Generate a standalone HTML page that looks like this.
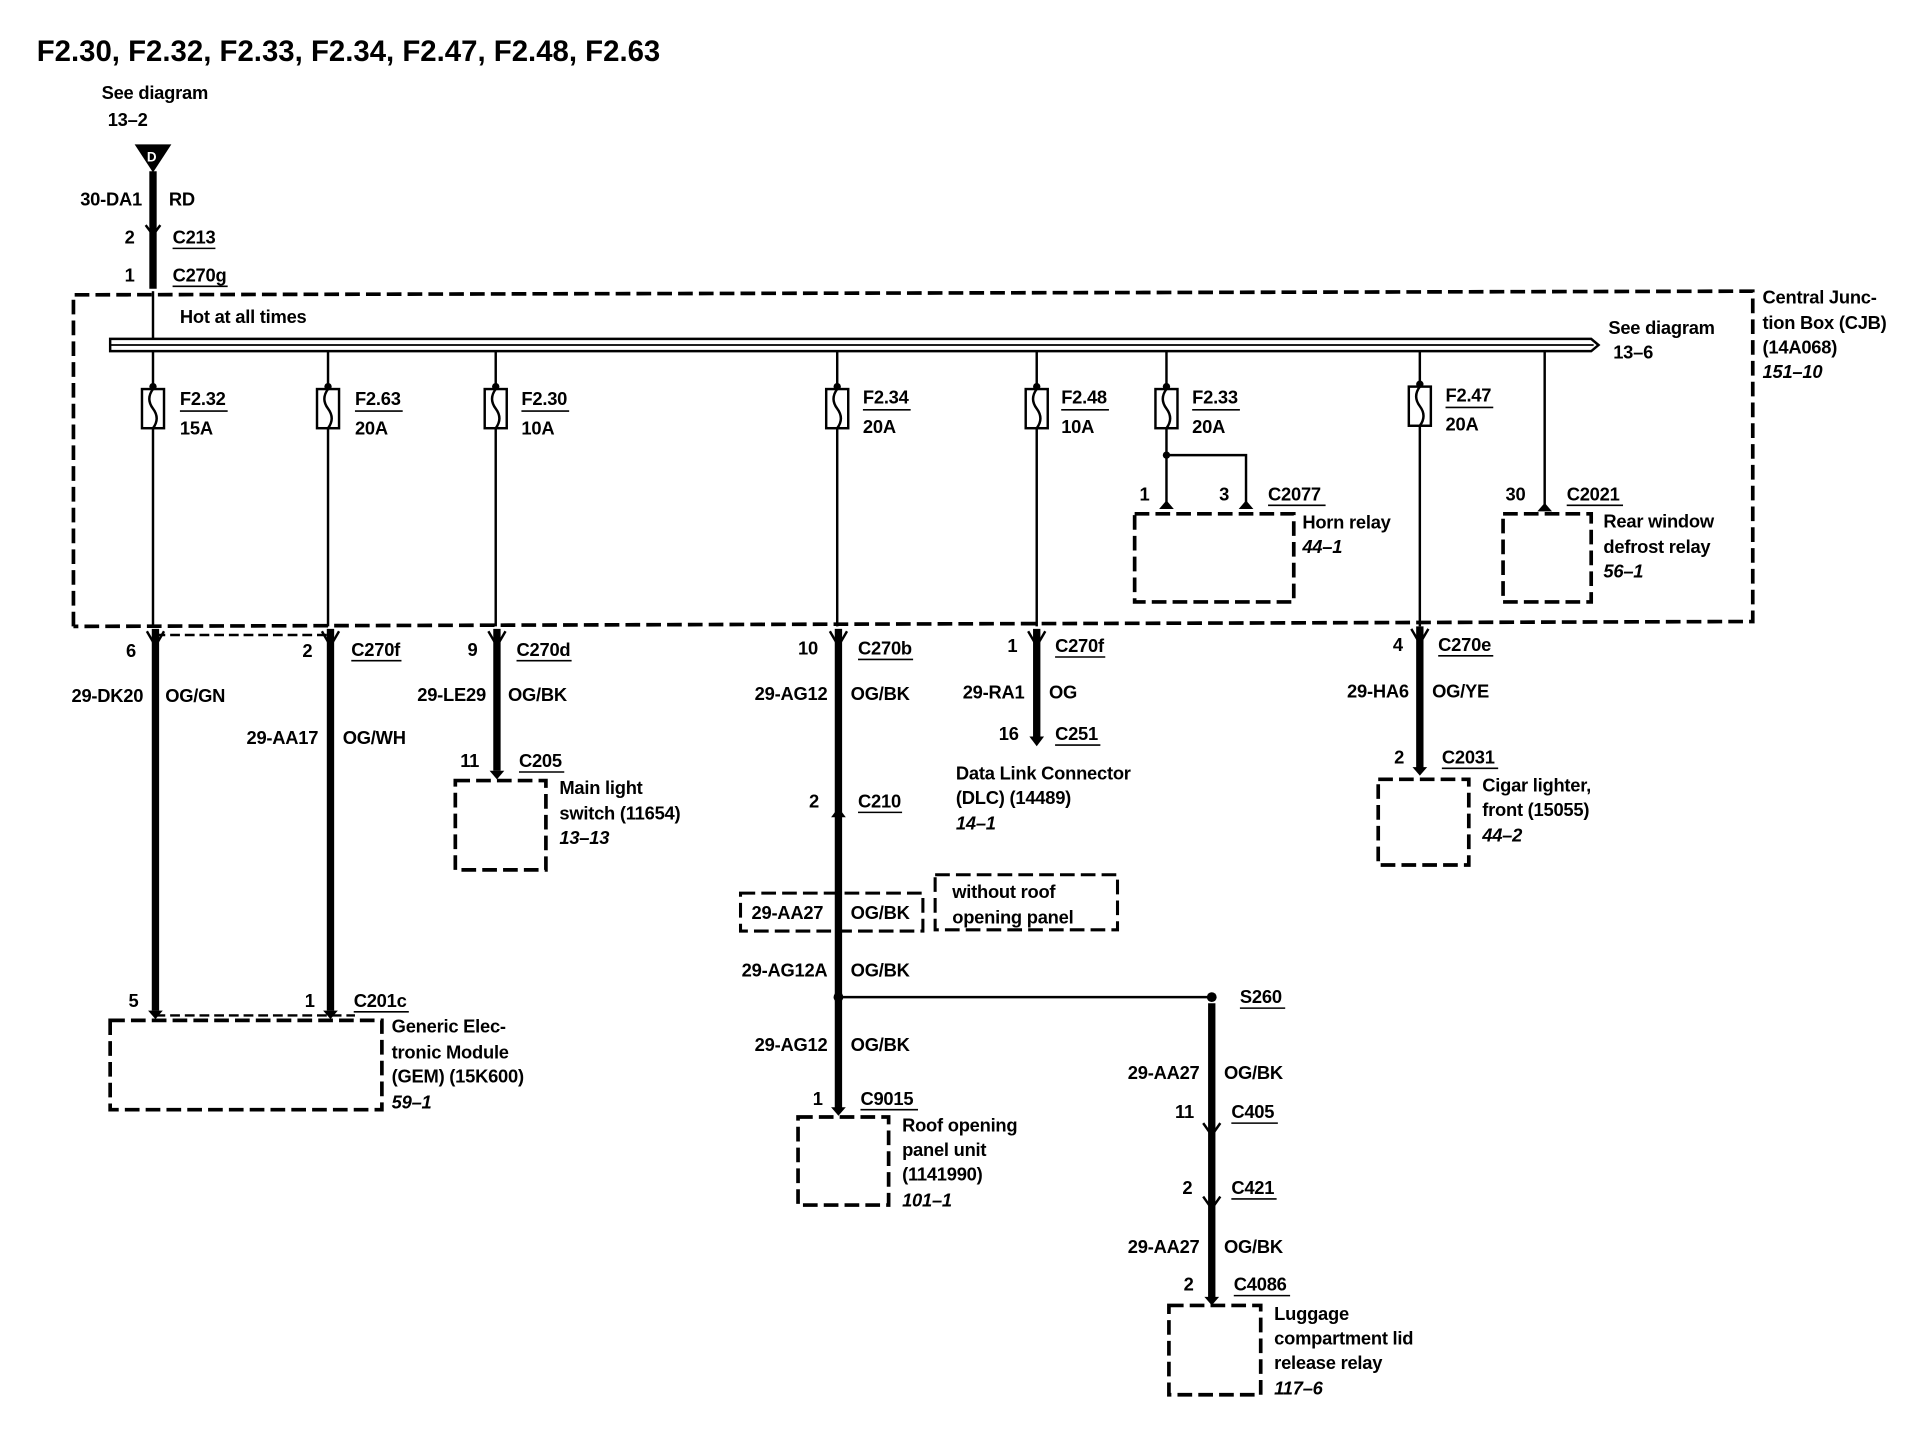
<!DOCTYPE html>
<html><head><meta charset="utf-8"><style>
html,body{margin:0;padding:0;background:#fff}
svg{display:block}
text{font-family:"Liberation Sans",sans-serif;font-size:15px;font-weight:bold;fill:#000;letter-spacing:-0.2px}
.t{font-size:24px;letter-spacing:0}
.i{font-style:italic}
.r{text-anchor:end}
.d{fill:none;stroke:#000;stroke-width:3;stroke-dasharray:12,5}
.w{stroke:#000;stroke-width:2;fill:none}
.W{stroke:#000;stroke-width:6;fill:none}
.u{stroke:#000;stroke-width:1.3}
</style></head><body>
<svg width="1918" height="1440" viewBox="0 0 1567 1177" preserveAspectRatio="none" xmlns="http://www.w3.org/2000/svg">
<text class="t" x="30" y="50">F2.30, F2.32, F2.33, F2.34, F2.47, F2.48, F2.63</text>
<text x="83" y="81">See diagram</text>
<text x="88" y="103">13–2</text>
<polygon points="110,118 140,118 125,141" fill="#000"/>
<text x="120" y="132" style="font-size:11px;fill:#fff">D</text>
<line class="W" x1="125" y1="140" x2="125" y2="236"/>
<text class="r" x="116" y="168">30-DA1</text><text x="138" y="168">RD</text>
<text class="r" x="110" y="199">2</text><text x="141" y="199">C213</text><line class="u" x1="141" y1="203" x2="176" y2="203"/>
<text class="r" x="110" y="230">1</text><text x="141" y="230">C270g</text><line class="u" x1="141" y1="234" x2="186" y2="234"/>
<path d="M119,184 L125,192 L131,184" class="w"/>
<path class="d" d="M60,512 L60,241 L1432,238 L1432,508 L60,512"/>
<text x="1440" y="248">Central Junc-</text>
<text x="1440" y="269">tion Box (CJB)</text>
<text x="1440" y="289">(14A068)</text>
<text class="i" x="1440" y="309">151–10</text>
<text x="147" y="264">Hot at all times</text>
<path d="M90,277 L1300,277 L1306,282 L1300,287 L90,287 Z" fill="#fff" stroke="#000" stroke-width="2"/>
<line x1="90" y1="282" x2="1302" y2="282" stroke="#000" stroke-width="1.5"/>
<text x="1314" y="273">See diagram</text>
<text x="1318" y="293">13–6</text>
<line class="w" x1="125" y1="238" x2="125" y2="277"/>
<g>
<line class="w" x1="125" y1="287" x2="125" y2="512"/><rect x="116" y="318" width="18" height="32" fill="#fff" stroke="#000" stroke-width="2"/><path class="w" d="M125,318 q-6,8 0,16 q6,8 0,16"/><circle cx="125" cy="316" r="3"/>
<text x="147" y="331">F2.32</text><line class="u" x1="147" y1="336" x2="186" y2="336"/><text x="147" y="355">15A</text>
<line class="w" x1="268" y1="287" x2="268" y2="512"/><rect x="259" y="318" width="18" height="32" fill="#fff" stroke="#000" stroke-width="2"/><path class="w" d="M268,318 q-6,8 0,16 q6,8 0,16"/><circle cx="268" cy="316" r="3"/>
<text x="290" y="331">F2.63</text><line class="u" x1="290" y1="336" x2="329" y2="336"/><text x="290" y="355">20A</text>
<line class="w" x1="405" y1="287" x2="405" y2="512"/><rect x="396" y="318" width="18" height="32" fill="#fff" stroke="#000" stroke-width="2"/><path class="w" d="M405,318 q-6,8 0,16 q6,8 0,16"/><circle cx="405" cy="316" r="3"/>
<text x="426" y="331">F2.30</text><line class="u" x1="426" y1="336" x2="465" y2="336"/><text x="426" y="355">10A</text>
<line class="w" x1="684" y1="287" x2="684" y2="512"/><rect x="675" y="318" width="18" height="32" fill="#fff" stroke="#000" stroke-width="2"/><path class="w" d="M684,318 q-6,8 0,16 q6,8 0,16"/><circle cx="684" cy="316" r="3"/>
<text x="705" y="330">F2.34</text><line class="u" x1="705" y1="335" x2="744" y2="335"/><text x="705" y="354">20A</text>
<line class="w" x1="847" y1="287" x2="847" y2="512"/><rect x="838" y="318" width="18" height="32" fill="#fff" stroke="#000" stroke-width="2"/><path class="w" d="M847,318 q-6,8 0,16 q6,8 0,16"/><circle cx="847" cy="316" r="3"/>
<text x="867" y="330">F2.48</text><line class="u" x1="867" y1="335" x2="906" y2="335"/><text x="867" y="354">10A</text>
<line class="w" x1="953" y1="287" x2="953" y2="412"/><rect x="944" y="318" width="18" height="32" fill="#fff" stroke="#000" stroke-width="2"/><path class="w" d="M953,318 q-6,8 0,16 q6,8 0,16"/><circle cx="953" cy="316" r="3"/>
<text x="974" y="330">F2.33</text><line class="u" x1="974" y1="335" x2="1013" y2="335"/><text x="974" y="354">20A</text>
<line class="w" x1="1160" y1="287" x2="1160" y2="512"/><rect x="1151" y="316" width="18" height="32" fill="#fff" stroke="#000" stroke-width="2"/><path class="w" d="M1160,316 q-6,8 0,16 q6,8 0,16"/><circle cx="1160" cy="314" r="3"/>
<text x="1181" y="328">F2.47</text><line class="u" x1="1181" y1="333" x2="1220" y2="333"/><text x="1181" y="352">20A</text>
</g>
<circle cx="953" cy="372" r="3"/><path class="w" d="M953,372 L1018,372 L1018,412"/>
<path d="M947,416 L953,409 L959,416 Z M1012,416 L1018,409 L1024,416 Z"/>
<text x="931" y="409">1</text><text x="996" y="409">3</text><text x="1036" y="409">C2077</text><line class="u" x1="1036" y1="413" x2="1083" y2="413"/>
<rect class="d" x="927" y="420" width="130" height="72"/>
<text x="1064" y="432">Horn relay</text><text class="i" x="1064" y="452">44–1</text>
<line class="w" x1="1262" y1="287" x2="1262" y2="414"/><path d="M1256,418 L1262,411 L1268,418 Z"/>
<text x="1230" y="409">30</text><text x="1280" y="409">C2021</text><line class="u" x1="1280" y1="413" x2="1326" y2="413"/>
<rect class="d" x="1228" y="420" width="72" height="72"/>
<text x="1310" y="431">Rear window</text><text x="1310" y="452">defrost relay</text><text class="i" x="1310" y="472">56–1</text>
<line class="W" x1="127" y1="514" x2="127" y2="826"/><line class="W" x1="270" y1="514" x2="270" y2="826"/>
<path d="M120,516 L127,528 L134,516 M263,516 L270,528 L277,516" class="w"/>
<line x1="127" y1="519" x2="270" y2="519" stroke="#000" stroke-width="2" stroke-dasharray="8,4"/>
<text x="103" y="537">6</text><text x="247" y="537">2</text><text x="287" y="536">C270f</text><line class="u" x1="287" y1="540" x2="328" y2="540"/>
<text class="r" x="117" y="574">29-DK20</text><text x="135" y="574">OG/GN</text>
<text class="r" x="260" y="608">29-AA17</text><text x="280" y="608">OG/WH</text>
<text x="105" y="823">5</text><text x="249" y="823">1</text><text x="289" y="823">C201c</text><line class="u" x1="289" y1="827" x2="334" y2="827"/>
<path d="M121,826 L127,833 L133,826 Z M264,826 L270,833 L276,826 Z"/>
<line x1="127" y1="830" x2="290" y2="830" stroke="#000" stroke-width="2" stroke-dasharray="8,4"/>
<rect class="d" x="90" y="834" width="222" height="73"/>
<text x="320" y="844">Generic Elec-</text><text x="320" y="865">tronic Module</text><text x="320" y="885">(GEM) (15K600)</text><text class="i" x="320" y="906">59–1</text>
<line class="W" x1="406" y1="514" x2="406" y2="630"/><path d="M399,516 L406,528 L413,516" class="w"/><path d="M400,630 L406,637 L412,630 Z"/>
<text x="382" y="536">9</text><text x="422" y="536">C270d</text><line class="u" x1="422" y1="540" x2="467" y2="540"/>
<text class="r" x="397" y="573">29-LE29</text><text x="415" y="573">OG/BK</text>
<text x="376" y="627">11</text><text x="424" y="627">C205</text><line class="u" x1="424" y1="631" x2="461" y2="631"/>
<rect class="d" x="372" y="638" width="74" height="73"/>
<text x="457" y="649">Main light</text><text x="457" y="670">switch (11654)</text><text class="i" x="457" y="690">13–13</text>
<line class="W" x1="685" y1="514" x2="685" y2="906"/><path d="M678,516 L685,528 L692,516" class="w"/>
<path d="M679,668 L685,660 L691,668 Z"/>
<text x="652" y="535">10</text><text x="701" y="535">C270b</text><line class="u" x1="701" y1="539" x2="746" y2="539"/>
<text class="r" x="676" y="572">29-AG12</text><text x="695" y="572">OG/BK</text>
<text x="661" y="660">2</text><text x="701" y="660">C210</text><line class="u" x1="701" y1="664" x2="737" y2="664"/>
<rect class="d" x="605" y="730" width="149" height="31" style="stroke-width:2.5"/>
<text x="614" y="751">29-AA27</text><text x="695" y="751">OG/BK</text>
<rect class="d" x="764" y="715" width="149" height="45" style="stroke-width:2.5"/>
<text x="778" y="734">without roof</text><text x="778" y="755">opening panel</text>
<text class="r" x="676" y="798">29-AG12A</text><text x="695" y="798">OG/BK</text>
<circle cx="685" cy="815" r="4"/><line class="w" x1="685" y1="815" x2="990" y2="815"/>
<text class="r" x="676" y="859">29-AG12</text><text x="695" y="859">OG/BK</text>
<text x="664" y="903">1</text><text x="703" y="903">C9015</text><line class="u" x1="703" y1="907" x2="750" y2="907"/>
<path d="M679,905 L685,912 L691,905 Z"/>
<rect class="d" x="652" y="913" width="74" height="72"/>
<text x="737" y="925">Roof opening</text><text x="737" y="945">panel unit</text><text x="737" y="965">(1141990)</text><text class="i" x="737" y="986">101–1</text>
<line class="W" x1="847" y1="514" x2="847" y2="604"/><path d="M840,516 L847,528 L854,516" class="w"/><path d="M841,602 L847,610 L853,602 Z"/>
<text x="823" y="533">1</text><text x="862" y="533">C270f</text><line class="u" x1="862" y1="537" x2="903" y2="537"/>
<text class="r" x="837" y="571">29-RA1</text><text x="857" y="571">OG</text>
<text x="816" y="605">16</text><text x="862" y="605">C251</text><line class="u" x1="862" y1="609" x2="899" y2="609"/>
<text x="781" y="637">Data Link Connector</text><text x="781" y="657">(DLC) (14489)</text><text class="i" x="781" y="678">14–1</text>
<line class="W" x1="1160" y1="512" x2="1160" y2="628"/><path d="M1153,514 L1160,526 L1167,514" class="w"/><path d="M1154,627 L1160,634 L1166,627 Z"/>
<text x="1138" y="532">4</text><text x="1175" y="532">C270e</text><line class="u" x1="1175" y1="536" x2="1220" y2="536"/>
<text class="r" x="1151" y="570">29-HA6</text><text x="1170" y="570">OG/YE</text>
<text x="1139" y="624">2</text><text x="1178" y="624">C2031</text><line class="u" x1="1178" y1="628" x2="1224" y2="628"/>
<rect class="d" x="1126" y="637" width="74" height="70"/>
<text x="1211" y="647">Cigar lighter,</text><text x="1211" y="667">front (15055)</text><text class="i" x="1211" y="688">44–2</text>
<circle cx="990" cy="815" r="4"/>
<line class="W" x1="990" y1="820" x2="990" y2="1062"/>
<text x="1013" y="820">S260</text><line class="u" x1="1013" y1="824" x2="1050" y2="824"/>
<text class="r" x="980" y="882">29-AA27</text><text x="1000" y="882">OG/BK</text>
<path d="M983,918 L990,928 L997,918 M983,978 L990,988 L997,978" class="w"/>
<text x="960" y="914">11</text><text x="1006" y="914">C405</text><line class="u" x1="1006" y1="918" x2="1044" y2="918"/>
<text x="966" y="976">2</text><text x="1006" y="976">C421</text><line class="u" x1="1006" y1="980" x2="1043" y2="980"/>
<text class="r" x="980" y="1024">29-AA27</text><text x="1000" y="1024">OG/BK</text>
<text x="967" y="1055">2</text><text x="1008" y="1055">C4086</text><line class="u" x1="1008" y1="1059" x2="1054" y2="1059"/>
<path d="M984,1060 L990,1067 L996,1060 Z"/>
<rect class="d" x="955" y="1067" width="75" height="73"/>
<text x="1041" y="1079">Luggage</text><text x="1041" y="1099">compartment lid</text><text x="1041" y="1119">release relay</text><text class="i" x="1041" y="1140">117–6</text>
</svg>
</body></html>
